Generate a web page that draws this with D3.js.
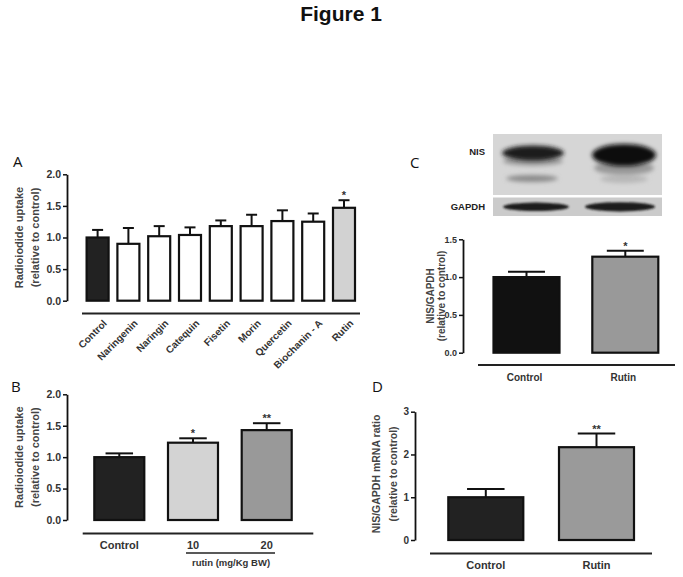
<!DOCTYPE html>
<html><head><meta charset="utf-8">
<script src="https://cdn.jsdelivr.net/npm/d3@7"></script>
<style>
html,body{margin:0;padding:0;background:#fff;}
svg{display:block;font-family:"Liberation Sans",Arial,sans-serif;}
</style></head>
<body>
<svg id="fig" width="683" height="577"></svg>
<script>
// ---- Data ----
const catsA = ["Control","Naringenin","Naringin","Catequin","Fisetin","Morin","Quercetin","Biochanin - A","Rutin"];
const valsA = [1.00,0.90,1.02,1.04,1.18,1.18,1.26,1.25,1.47];
const errA  = [0.12,0.25,0.16,0.12,0.09,0.18,0.17,0.13,0.12];
const sigA  = ["","","","","","","","","*"];
const ticksA = [0,0.5,1.0,1.5,2.0];

const catsB = ["Control","10","20"];
const valsB = [1.00,1.23,1.43];
const errB  = [0.06,0.07,0.11];
const sigB  = ["","*","**"];
const ticksB = [0,0.5,1.0,1.5,2.0];

const catsC = ["Control","Rutin"];
const valsC = [1.00,1.27];
const errC  = [0.07,0.08];
const sigC  = ["","*"];
const ticksC = [0,0.5,1.0,1.5];

const catsD = ["Control","Rutin"];
const valsD = [1.00,2.17];
const errD  = [0.19,0.32];
const sigD  = ["","**"];
const ticksD = [0,1,2,3];

const svg = d3.select("#fig");

svg.append("text").attr("x",341).attr("y",21).attr("text-anchor","middle")
  .attr("font-size",21).attr("font-weight","bold").attr("fill","#111").text("Figure 1");

function band(domain, firstCenter, spacing, barW){
  const n = domain.length, p = 1 - barW/spacing;
  return d3.scaleBand().domain(domain)
    .range([firstCenter - spacing/2, firstCenter - spacing/2 + n*spacing])
    .paddingInner(p).paddingOuter(p/2);
}

function panel(o){
  const g = svg.append("g");
  const x = band(o.cats, o.c0, o.sp, o.bw);
  const y = d3.scaleLinear().domain([0,o.ymax]).range([o.y0,o.y1]);
  const ax = d3.axisLeft(y).tickValues(o.ticks).tickSize(4).tickSizeOuter(0).tickPadding(2)
    .tickFormat(o.fmt);
  const axg = g.append("g").attr("transform",`translate(${o.ax},0)`).call(ax);
  axg.select(".domain").attr("stroke","#111").attr("stroke-width",1.8);
  axg.selectAll(".tick line").attr("stroke","#111").attr("stroke-width",1.5);
  axg.selectAll(".tick text").attr("font-size",o.tfs||10.5).attr("font-weight","bold")
    .attr("fill","#333").attr("font-family","'Liberation Sans',Arial,sans-serif");
  const yc = (o.tc!==undefined)?o.tc:(o.y0+o.y1)/2;
  o.titles.forEach((t,i)=>{
    g.append("text").attr("transform",`translate(${o.tx[i]},${yc}) rotate(-90)`)
      .attr("text-anchor","middle").attr("font-size",o.yfs||11).attr("font-weight","bold")
      .attr("fill","#444").text(t);
  });
  const cap = x.bandwidth()*(o.capf||0.5);
  o.vals.forEach((v,i)=>{
    const cx = x(o.cats[i]) + x.bandwidth()/2;
    const top = v + o.errs[i];
    g.append("line").attr("x1",cx).attr("x2",cx).attr("y1",y(v)).attr("y2",y(top))
      .attr("stroke","#111").attr("stroke-width",2);
    g.append("line").attr("x1",cx-cap/2).attr("x2",cx+cap/2).attr("y1",y(top)).attr("y2",y(top))
      .attr("stroke","#111").attr("stroke-width",2);
    if(o.sig[i]){
      g.append("text").attr("x",cx).attr("y",y(top)-1).attr("text-anchor","middle")
        .attr("font-size",11).attr("font-weight","bold").attr("fill","#333").text(o.sig[i]);
    }
  });
  g.selectAll("rect.bar").data(o.vals).join("rect").attr("class","bar")
    .attr("x",(d,i)=>x(o.cats[i])).attr("width",x.bandwidth())
    .attr("y",d=>y(d)).attr("height",d=>y(0)-y(d))
    .attr("fill",(d,i)=>o.fills[i]).attr("stroke","#111").attr("stroke-width",o.sw||2.2);
  g.append("line").attr("x1",o.bl[0]).attr("x2",o.bl[1]).attr("y1",o.bly).attr("y2",o.bly)
    .attr("stroke","#222").attr("stroke-width",2);
  svg.append("text").attr("x",o.lx).attr("y",o.ly).attr("font-size",15).attr("fill","#111")
    .attr("font-family","'Open Sans','Liberation Sans',Arial,sans-serif").text(o.letter);
  return {g,x,y};
}

// Panel A
const pA = panel({cats:catsA, vals:valsA, errs:errA, sig:sigA, ticks:ticksA, fmt:d3.format(".1f"),
  c0:97.6, sp:30.8, bw:22, ymax:2, y0:300.7, y1:174.3, ax:67,
  titles:["Radioiodide uptake","(relative to control)"], tx:[23,39],
  fills:["#222","#fff","#fff","#fff","#fff","#fff","#fff","#fff","#d2d2d2"],
  bl:[82,360], bly:313.5, letter:"A", lx:13, ly:167, capf:0.5});
catsA.forEach(c=>{
  const cx = pA.x(c)+pA.x.bandwidth()/2;
  pA.g.append("text").attr("transform",`translate(${cx+5},${319}) rotate(-45)`)
    .attr("text-anchor","end").attr("dy","0.7em").attr("font-size",10).attr("font-weight","bold")
    .attr("fill","#333").text(c);
});

// Panel B
const pB = panel({cats:catsB, vals:valsB, errs:errB, sig:sigB, ticks:ticksB, fmt:d3.format(".1f"),
  c0:119.3, sp:73.7, bw:50, ymax:2, y0:520, y1:394.3, ax:67,
  titles:["Radioiodide uptake","(relative to control)"], tx:[23,39],
  fills:["#222","#d3d3d3","#999"],
  bl:[82.7,313.3], bly:533.5, letter:"B", lx:11, ly:392, capf:0.55});
catsB.forEach(c=>{
  const cx = pB.x(c)+pB.x.bandwidth()/2;
  pB.g.append("text").attr("x",cx).attr("y",549).attr("text-anchor","middle")
    .attr("font-size",11).attr("font-weight","bold").attr("fill","#333").text(c);
});
pB.g.append("line").attr("x1",186).attr("x2",275).attr("y1",553).attr("y2",553)
  .attr("stroke","#222").attr("stroke-width",1.6);
pB.g.append("text").attr("x",231).attr("y",566).attr("text-anchor","middle")
  .attr("font-size",9.5).attr("font-weight","bold").attr("fill","#333").text("rutin (mg/Kg BW)");

// Panel C blot
const defs = svg.append("defs");
defs.append("filter").attr("id","blur").attr("x","-30%").attr("y","-80%").attr("width","160%").attr("height","260%")
  .append("feGaussianBlur").attr("stdDeviation",2.2);
defs.append("filter").attr("id","blur2").attr("x","-30%").attr("y","-80%").attr("width","160%").attr("height","260%")
  .append("feGaussianBlur").attr("stdDeviation",1.3);
const blot = svg.append("g");
blot.append("rect").attr("x",493).attr("y",134).attr("width",169).attr("height",61).attr("fill","#d6d6d6");
blot.append("rect").attr("x",493).attr("y",197.5).attr("width",169).attr("height",18.5).attr("fill","#cbcbcb");
blot.append("ellipse").attr("cx",532).attr("cy",178.5).attr("rx",26).attr("ry",3.5).attr("fill","#8c8c8c").attr("filter","url(#blur)");
blot.append("ellipse").attr("cx",624).attr("cy",179).attr("rx",24).attr("ry",4).attr("fill","#b8b8b8").attr("filter","url(#blur)");
blot.append("ellipse").attr("cx",533).attr("cy",161).attr("rx",30).attr("ry",5).attr("fill","#999").attr("filter","url(#blur)");
blot.append("ellipse").attr("cx",533).attr("cy",153).attr("rx",31).attr("ry",7.5).attr("fill","#1a1a1a").attr("filter","url(#blur)");
blot.append("ellipse").attr("cx",624).attr("cy",168).attr("rx",30).attr("ry",7).attr("fill","#999").attr("filter","url(#blur)");
blot.append("ellipse").attr("cx",624).attr("cy",155).attr("rx",32).attr("ry",11).attr("fill","#111").attr("filter","url(#blur)");
blot.append("ellipse").attr("cx",536).attr("cy",206.8).attr("rx",33).attr("ry",4.2).attr("fill","#1a1a1a").attr("filter","url(#blur2)");
blot.append("ellipse").attr("cx",620).attr("cy",206.8).attr("rx",35).attr("ry",4.6).attr("fill","#1a1a1a").attr("filter","url(#blur2)");
blot.append("text").attr("x",485).attr("y",155).attr("text-anchor","end").attr("font-size",9.5)
  .attr("font-weight","bold").attr("fill","#222").text("NIS");
blot.append("text").attr("x",485).attr("y",210).attr("text-anchor","end").attr("font-size",9.5)
  .attr("font-weight","bold").attr("fill","#222").text("GAPDH");

// Panel C
const pC = panel({cats:catsC, vals:valsC, errs:errC, sig:sigC, ticks:ticksC, fmt:d3.format(".1f"),
  c0:526.5, sp:98.8, bw:66, ymax:1.5, y0:352.7, y1:239.3, ax:463,
  titles:["NIS/GAPDH","(relative to control)"], tx:[434,444.5], tc:296,
  fills:["#111","#999"], yfs:10, tfs:9,
  bl:[478,675], bly:365, letter:"C", lx:410, ly:168, capf:0.56});
catsC.forEach(c=>{
  const cx = pC.x(c)+pC.x.bandwidth()/2;
  pC.g.append("text").attr("x",cx-2).attr("y",381).attr("text-anchor","middle")
    .attr("font-size",10).attr("font-weight","bold").attr("fill","#333").text(c);
});

// Panel D
const pD = panel({cats:catsD, vals:valsD, errs:errD, sig:sigD, ticks:ticksD, fmt:d3.format("d"),
  c0:485.8, sp:110.7, bw:75, ymax:3, y0:540, y1:411.7, ax:415,
  titles:["NIS/GAPDH mRNA ratio","(relative to control)"], tx:[380,397], tc:474,
  fills:["#222","#9a9a9a"], yfs:10.5, tfs:10,
  bl:[430,652], bly:553.5, letter:"D", lx:372, ly:392, capf:0.5});
catsD.forEach(c=>{
  const cx = pD.x(c)+pD.x.bandwidth()/2;
  pD.g.append("text").attr("x",cx).attr("y",569).attr("text-anchor","middle")
    .attr("font-size",11).attr("font-weight","bold").attr("fill","#333").text(c);
});
</script>
</body></html>
